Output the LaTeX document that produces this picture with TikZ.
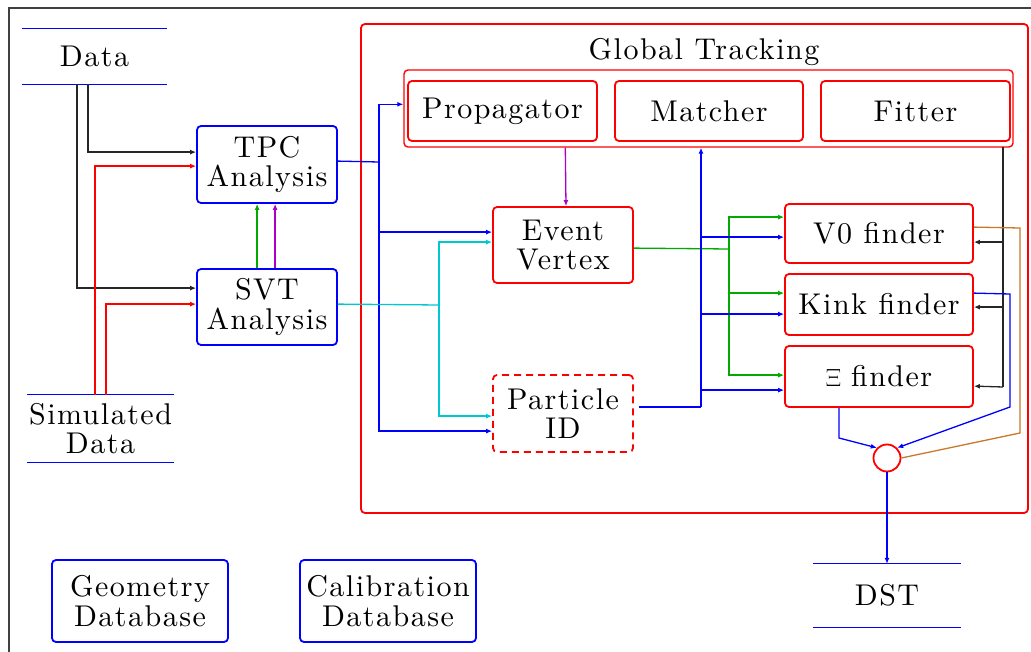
\documentclass[tikz,border=0pt]{standalone}
\usepackage{fontspec}
\usetikzlibrary{arrows.meta,calc}
\definecolor{cgreen}{RGB}{0,170,0}
\definecolor{cmag}{RGB}{170,0,200}
\definecolor{ccyan}{RGB}{0,200,210}
\definecolor{corange}{RGB}{200,120,40}
\newfontfamily\diaface{lmroman10-regular.otf}[LetterSpace=5]
\newcommand{\diafont}{\diaface\fontsize{30}{29.5}\selectfont}
\begin{document}
\begin{tikzpicture}[x=1pt,y=-1pt,
  txt/.style={font=\diafont, align=center, inner sep=0pt},
  box/.style={txt, draw, rounded corners=4pt, line width=1.8pt},
  bbox/.style={box, draw=blue},
  rbox/.style={box, draw=red},
  store/.style={txt},
  con/.style={line width=1.3pt},
  arr/.style={con, -{Latex[length=6pt,width=5pt]}},
  blk/.style={black!85},
  bl/.style={blue},
  rd/.style={red},
  gr/.style={cgreen},
  mg/.style={cmag},
  cy/.style={ccyan},
  og/.style={corange}]
\useasboundingbox (0,0) rectangle (1031,652);
\clip (0,0) rectangle (1031,652);
% outer border
\draw[black!75, line width=1.5pt] (9,700) -- (9,8) -- (1100,8);

% stores
\node[store, minimum width=145pt, minimum height=55pt] (data) at (94.5,56.5) {Data};
\draw[blue, line width=1.3pt] (data.north west) -- (data.north east) (data.south west) -- (data.south east);
\node[store, minimum width=147pt, minimum height=67pt] (sim) at (100.5,428.5) {Simulated\\Data};
\draw[blue, line width=1.3pt] (sim.north west) -- (sim.north east) (sim.south west) -- (sim.south east);
\node[store, minimum width=148pt, minimum height=63pt] (dst) at (887,595.5) {DST};
\draw[blue, line width=1.3pt] (dst.north west) -- (dst.north east) (dst.south west) -- (dst.south east);

% analysis boxes
\node[bbox, minimum width=140pt, minimum height=77pt] (tpc) at (267,164.5) {TPC\\Analysis};
\node[bbox, minimum width=140pt, minimum height=76pt] (svt) at (267,307) {SVT\\Analysis};
\node[bbox, minimum width=176pt, minimum height=82pt] (geo) at (140,601) {Geometry\\Database};
\node[bbox, minimum width=176pt, minimum height=82pt] (cal) at (388,601) {Calibration\\Database};

% global tracking
\node[rbox, minimum width=667pt, minimum height=489pt] (gt) at (694.5,268.5) {};
\node[txt] (gtl) at (704,52) {Global Tracking};
\node[rbox, line width=1.4pt, minimum width=609pt, minimum height=77pt] (gtin) at (708.5,108.5) {};
\node[rbox, minimum width=189pt, minimum height=60pt] (prop) at (502.5,111) {Propagator};
\node[rbox, minimum width=188pt, minimum height=60pt] (match) at (709,111) {Matcher};
\node[rbox, minimum width=189pt, minimum height=60pt] (fit) at (915.5,111) {Fitter};
\node[rbox, minimum width=140pt, minimum height=76pt] (ev) at (563,245) {Event\\Vertex};
\node[rbox, dashed, dash pattern=on 7pt off 5pt, minimum width=140pt, minimum height=77pt] (pid) at (563,413.5) {Particle\\ID};
\node[rbox, minimum width=188pt, minimum height=59pt] (v0) at (879,233.5) {V0 finder};
\node[rbox, minimum width=188pt, minimum height=61pt] (kink) at (879,304.5) {Kink finder};
\node[rbox, minimum width=188pt, minimum height=61pt] (xi) at (879,376.5) {$\Xi$\hspace{10pt}finder};
\node[draw=red, line width=1.8pt, circle, minimum size=27pt, inner sep=0pt] (circ) at (887,458) {};

% data inputs
\draw[arr,blk] ($(data.south)+(-6.5,0)$) |- ($(tpc.north west)+(0,27)$);
\draw[arr,blk] ($(data.south)+(-17.5,0)$) |- ($(svt.north west)+(0,20)$);
\draw[arr,rd] ($(sim.north)+(-5.5,0)$) |- ($(tpc.north west)+(0,41)$);
\draw[arr,rd] ($(sim.north)+(5.5,0)$) |- ($(svt.north west)+(0,36)$);
\draw[arr,gr] ($(svt.north west)+(61,0)$) -- ($(tpc.south west)+(61,0)$);
\draw[arr,mg] ($(svt.north west)+(79,0)$) -- ($(tpc.south west)+(79,0)$);

% TPC bus (blue)
\coordinate (bus) at (379,162);
\draw[con,bl] ($(tpc.north east)+(0,36)$) -- (bus);
\draw[arr,bl] (bus) |- ($(gtin.north west)+(0,35)$);
\draw[arr,bl] (bus) |- ($(ev.north west)+(0,26)$);
\draw[arr,bl] (bus) |- ($(pid.north west)+(0,57)$);

% SVT bus (cyan)
\coordinate (cbus) at (439,305);
\draw[con,cy] ($(svt.north east)+(0,36)$) -- (cbus);
\draw[arr,cy] (cbus) |- ($(ev.north west)+(0,36)$);
\draw[arr,cy] (cbus) |- ($(pid.north west)+(0,42)$);

% propagator -> event vertex
\draw[arr,mg] ($(gtin.south west)+(162,0)$) -- ($(ev.north)+(3,0)$);

% event vertex -> finders (green)
\coordinate (gbus) at (729,249);
\draw[con,gr] ($(ev.north east)+(0,42)$) -- (gbus);
\draw[arr,gr] (gbus) |- ($(v0.north west)+(0,14)$);
\draw[arr,gr] (gbus) |- ($(kink.north west)+(0,20)$);
\draw[arr,gr] (gbus) |- ($(xi.north west)+(0,30)$);

% particle id -> matcher & finders (blue)
\coordinate (bbus) at (701,407);
\draw[con,bl] ($(pid.east)+(5,-6.5)$) -- (bbus);
\draw[arr,bl] (bbus) -- (bbus |- gtin.south);
\draw[arr,bl] (bbus) |- ($(v0.north west)+(0,34)$);
\draw[arr,bl] (bbus) |- ($(kink.north west)+(0,41)$);
\draw[arr,bl] (bbus) |- ($(xi.north west)+(0,45)$);

% fitter -> finders (black)
\coordinate (ftop) at (1003,147);
\coordinate (fbot) at (1003,387);
\draw[con,blk] (ftop) -- (fbot);
\draw[arr,blk] ($(v0.north east)+(30,39)$) -- ($(v0.north east)+(0,39)$);
\draw[arr,blk] ($(kink.north east)+(30,34)$) -- ($(kink.north east)+(0,34)$);
\draw[arr,blk] (fbot) -- ($(xi.north east)+(0,41)$);

% finders -> merge
\draw[con,og] ($(v0.north east)+(0,24)$) -- (1020,228) -- (1020,433) -- (circ.east);
\draw[arr,bl] ($(kink.north east)+(0,20)$) -- (1010,294) -- (1010,407) -- (circ.north east);
\draw[arr,bl] ($(xi.south)+(-40,0)$) -- (839,438) -- (circ.north west);
\draw[arr,bl] (circ.south) -- (dst.north);
\end{tikzpicture}
\end{document}
